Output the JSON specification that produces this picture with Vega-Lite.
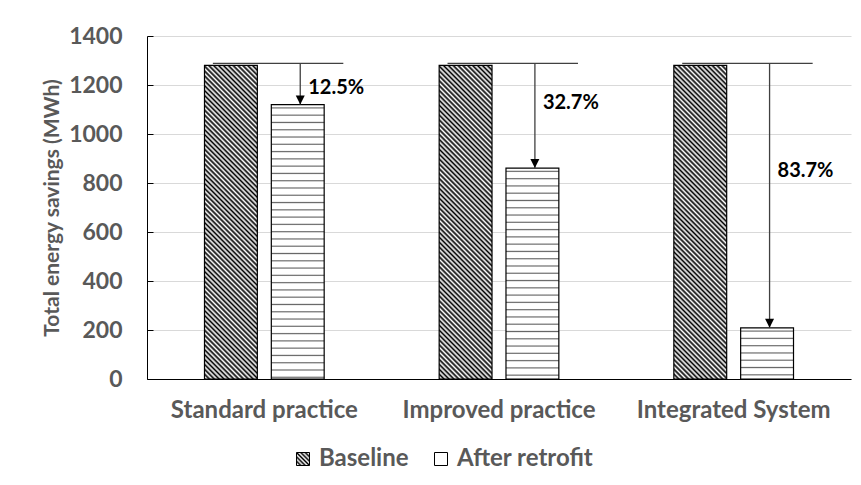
{
  "$schema": "https://vega.github.io/schema/vega-lite/v6.json",
  "autosize": {"type": "none"},
  "width": 704,
  "height": 343,
  "padding": {"left": 147, "top": 36, "right": 10, "bottom": 106},
  "background": "#ffffff",
  "config": {
    "font": "Lato",
    "view": {"stroke": null},
    "axis": {"labelFont": "Lato", "titleFont": "Lato"}
  },
  "datasets": {
    "bars": [
      {"cat": "Standard practice", "series": "Baseline", "value": 1280},
      {"cat": "Standard practice", "series": "After retrofit", "value": 1120},
      {"cat": "Improved practice", "series": "Baseline", "value": 1280},
      {"cat": "Improved practice", "series": "After retrofit", "value": 861},
      {"cat": "Integrated System", "series": "Baseline", "value": 1280},
      {"cat": "Integrated System", "series": "After retrofit", "value": 209}
    ],
    "ann": [
      {"cat": "Standard practice", "baseline": 1280, "after": 1120, "pct": "12.5%", "label_y": 1186},
      {"cat": "Improved practice", "baseline": 1280, "after": 861, "pct": "32.7%", "label_y": 1128},
      {"cat": "Integrated System", "baseline": 1280, "after": 209, "pct": "83.7%", "label_y": 850}
    ]
  },
  "layer": [
    {
      "data": {"name": "bars"},
      "mark": {"type": "bar", "strokeWidth": 1.2, "stroke": "#000000"},
      "encoding": {
        "x": {
          "field": "cat", "type": "nominal", "sort": null,
          "scale": {"domain": ["Standard practice", "Improved practice", "Integrated System"], "paddingInner": 0.49, "paddingOuter": 0.245},
          "axis": {"title": null, "labelFontSize": 24, "labelFontWeight": "bold", "labelColor": "#595959", "labelLimit": 0, "ticks": false, "domainColor": "#000000", "domainWidth": 1, "labelPadding": 19, "grid": false, "labelAngle": 0}
        },
        "xOffset": {"field": "series", "type": "nominal", "scale": {"domain": ["Baseline", "After retrofit"], "paddingInner": 0.209, "paddingOuter": 0}},
        "y": {
          "field": "value", "type": "quantitative",
          "scale": {"domain": [0, 1400], "nice": false},
          "axis": {"values": [0, 200, 400, 600, 800, 1000, 1200, 1400], "format": "d", "title": "Total energy savings (MWh)", "titleFontSize": 21, "titleFontWeight": "bold", "titleColor": "#595959", "labelFontSize": 23, "labelFontWeight": "bold", "labelColor": "#595959", "domainColor": "#000000", "tickColor": "#000000", "tickSize": -6, "labelPadding": 31, "gridColor": "#d9d9d9", "titlePadding": 6}
        },
        "fill": {
          "condition": [
            {"test": "datum.series === 'Baseline'", "value": {"gradient": "linear", "x1": 0, "y1": 1, "x2": 0.1925, "y2": -0.1369, "stops": [
              {"offset":0,"color":"#000"},{"offset":0.0067,"color":"#fff"},{"offset":0.0133,"color":"#000"},{"offset":0.02,"color":"#fff"},{"offset":0.0267,"color":"#000"},{"offset":0.0333,"color":"#fff"},{"offset":0.04,"color":"#000"},{"offset":0.0467,"color":"#fff"},{"offset":0.0533,"color":"#000"},{"offset":0.06,"color":"#fff"},{"offset":0.0667,"color":"#000"},{"offset":0.0733,"color":"#fff"},{"offset":0.08,"color":"#000"},{"offset":0.0867,"color":"#fff"},{"offset":0.0933,"color":"#000"},{"offset":0.1,"color":"#fff"},{"offset":0.1067,"color":"#000"},{"offset":0.1133,"color":"#fff"},{"offset":0.12,"color":"#000"},{"offset":0.1267,"color":"#fff"},{"offset":0.1333,"color":"#000"},{"offset":0.14,"color":"#fff"},{"offset":0.1467,"color":"#000"},{"offset":0.1533,"color":"#fff"},{"offset":0.16,"color":"#000"},{"offset":0.1667,"color":"#fff"},{"offset":0.1733,"color":"#000"},{"offset":0.18,"color":"#fff"},{"offset":0.1867,"color":"#000"},{"offset":0.1933,"color":"#fff"},
              {"offset":0.2,"color":"#000"},{"offset":0.2067,"color":"#fff"},{"offset":0.2133,"color":"#000"},{"offset":0.22,"color":"#fff"},{"offset":0.2267,"color":"#000"},{"offset":0.2333,"color":"#fff"},{"offset":0.24,"color":"#000"},{"offset":0.2467,"color":"#fff"},{"offset":0.2533,"color":"#000"},{"offset":0.26,"color":"#fff"},{"offset":0.2667,"color":"#000"},{"offset":0.2733,"color":"#fff"},{"offset":0.28,"color":"#000"},{"offset":0.2867,"color":"#fff"},{"offset":0.2933,"color":"#000"},{"offset":0.3,"color":"#fff"},{"offset":0.3067,"color":"#000"},{"offset":0.3133,"color":"#fff"},{"offset":0.32,"color":"#000"},{"offset":0.3267,"color":"#fff"},{"offset":0.3333,"color":"#000"},{"offset":0.34,"color":"#fff"},{"offset":0.3467,"color":"#000"},{"offset":0.3533,"color":"#fff"},{"offset":0.36,"color":"#000"},{"offset":0.3667,"color":"#fff"},{"offset":0.3733,"color":"#000"},{"offset":0.38,"color":"#fff"},{"offset":0.3867,"color":"#000"},{"offset":0.3933,"color":"#fff"},
              {"offset":0.4,"color":"#000"},{"offset":0.4067,"color":"#fff"},{"offset":0.4133,"color":"#000"},{"offset":0.42,"color":"#fff"},{"offset":0.4267,"color":"#000"},{"offset":0.4333,"color":"#fff"},{"offset":0.44,"color":"#000"},{"offset":0.4467,"color":"#fff"},{"offset":0.4533,"color":"#000"},{"offset":0.46,"color":"#fff"},{"offset":0.4667,"color":"#000"},{"offset":0.4733,"color":"#fff"},{"offset":0.48,"color":"#000"},{"offset":0.4867,"color":"#fff"},{"offset":0.4933,"color":"#000"},{"offset":0.5,"color":"#fff"},{"offset":0.5067,"color":"#000"},{"offset":0.5133,"color":"#fff"},{"offset":0.52,"color":"#000"},{"offset":0.5267,"color":"#fff"},{"offset":0.5333,"color":"#000"},{"offset":0.54,"color":"#fff"},{"offset":0.5467,"color":"#000"},{"offset":0.5533,"color":"#fff"},{"offset":0.56,"color":"#000"},{"offset":0.5667,"color":"#fff"},{"offset":0.5733,"color":"#000"},{"offset":0.58,"color":"#fff"},{"offset":0.5867,"color":"#000"},{"offset":0.5933,"color":"#fff"},
              {"offset":0.6,"color":"#000"},{"offset":0.6067,"color":"#fff"},{"offset":0.6133,"color":"#000"},{"offset":0.62,"color":"#fff"},{"offset":0.6267,"color":"#000"},{"offset":0.6333,"color":"#fff"},{"offset":0.64,"color":"#000"},{"offset":0.6467,"color":"#fff"},{"offset":0.6533,"color":"#000"},{"offset":0.66,"color":"#fff"},{"offset":0.6667,"color":"#000"},{"offset":0.6733,"color":"#fff"},{"offset":0.68,"color":"#000"},{"offset":0.6867,"color":"#fff"},{"offset":0.6933,"color":"#000"},{"offset":0.7,"color":"#fff"},{"offset":0.7067,"color":"#000"},{"offset":0.7133,"color":"#fff"},{"offset":0.72,"color":"#000"},{"offset":0.7267,"color":"#fff"},{"offset":0.7333,"color":"#000"},{"offset":0.74,"color":"#fff"},{"offset":0.7467,"color":"#000"},{"offset":0.7533,"color":"#fff"},{"offset":0.76,"color":"#000"},{"offset":0.7667,"color":"#fff"},{"offset":0.7733,"color":"#000"},{"offset":0.78,"color":"#fff"},{"offset":0.7867,"color":"#000"},{"offset":0.7933,"color":"#fff"},
              {"offset":0.8,"color":"#000"},{"offset":0.8067,"color":"#fff"},{"offset":0.8133,"color":"#000"},{"offset":0.82,"color":"#fff"},{"offset":0.8267,"color":"#000"},{"offset":0.8333,"color":"#fff"},{"offset":0.84,"color":"#000"},{"offset":0.8467,"color":"#fff"},{"offset":0.8533,"color":"#000"},{"offset":0.86,"color":"#fff"},{"offset":0.8667,"color":"#000"},{"offset":0.8733,"color":"#fff"},{"offset":0.88,"color":"#000"},{"offset":0.8867,"color":"#fff"},{"offset":0.8933,"color":"#000"},{"offset":0.9,"color":"#fff"},{"offset":0.9067,"color":"#000"},{"offset":0.9133,"color":"#fff"},{"offset":0.92,"color":"#000"},{"offset":0.9267,"color":"#fff"},{"offset":0.9333,"color":"#000"},{"offset":0.94,"color":"#fff"},{"offset":0.9467,"color":"#000"},{"offset":0.9533,"color":"#fff"},{"offset":0.96,"color":"#000"},{"offset":0.9667,"color":"#fff"},{"offset":0.9733,"color":"#000"},{"offset":0.98,"color":"#fff"},{"offset":0.9867,"color":"#000"},{"offset":0.9933,"color":"#fff"},
              {"offset":1,"color":"#000"}
            ]}},
            {"test": "datum.cat === 'Standard practice'", "value": {"gradient": "linear", "x1": 0, "y1": -0.0145, "x2": 0, "y2": 1.0468, "stops": [
              {"offset":0,"color":"#fff"},
              {"offset":0.021,"color":"#fff"},{"offset":0.025,"color":"#666"},{"offset":0.029,"color":"#fff"},
              {"offset":0.046,"color":"#fff"},{"offset":0.05,"color":"#666"},{"offset":0.054,"color":"#fff"},
              {"offset":0.071,"color":"#fff"},{"offset":0.075,"color":"#666"},{"offset":0.079,"color":"#fff"},
              {"offset":0.096,"color":"#fff"},{"offset":0.1,"color":"#666"},{"offset":0.104,"color":"#fff"},
              {"offset":0.121,"color":"#fff"},{"offset":0.125,"color":"#666"},{"offset":0.129,"color":"#fff"},
              {"offset":0.146,"color":"#fff"},{"offset":0.15,"color":"#666"},{"offset":0.154,"color":"#fff"},
              {"offset":0.171,"color":"#fff"},{"offset":0.175,"color":"#666"},{"offset":0.179,"color":"#fff"},
              {"offset":0.196,"color":"#fff"},{"offset":0.2,"color":"#666"},{"offset":0.204,"color":"#fff"},
              {"offset":0.221,"color":"#fff"},{"offset":0.225,"color":"#666"},{"offset":0.229,"color":"#fff"},
              {"offset":0.246,"color":"#fff"},{"offset":0.25,"color":"#666"},{"offset":0.254,"color":"#fff"},
              {"offset":0.271,"color":"#fff"},{"offset":0.275,"color":"#666"},{"offset":0.279,"color":"#fff"},
              {"offset":0.296,"color":"#fff"},{"offset":0.3,"color":"#666"},{"offset":0.304,"color":"#fff"},
              {"offset":0.321,"color":"#fff"},{"offset":0.325,"color":"#666"},{"offset":0.329,"color":"#fff"},
              {"offset":0.346,"color":"#fff"},{"offset":0.35,"color":"#666"},{"offset":0.354,"color":"#fff"},
              {"offset":0.371,"color":"#fff"},{"offset":0.375,"color":"#666"},{"offset":0.379,"color":"#fff"},
              {"offset":0.396,"color":"#fff"},{"offset":0.4,"color":"#666"},{"offset":0.404,"color":"#fff"},
              {"offset":0.421,"color":"#fff"},{"offset":0.425,"color":"#666"},{"offset":0.429,"color":"#fff"},
              {"offset":0.446,"color":"#fff"},{"offset":0.45,"color":"#666"},{"offset":0.454,"color":"#fff"},
              {"offset":0.471,"color":"#fff"},{"offset":0.475,"color":"#666"},{"offset":0.479,"color":"#fff"},
              {"offset":0.496,"color":"#fff"},{"offset":0.5,"color":"#666"},{"offset":0.504,"color":"#fff"},
              {"offset":0.521,"color":"#fff"},{"offset":0.525,"color":"#666"},{"offset":0.529,"color":"#fff"},
              {"offset":0.546,"color":"#fff"},{"offset":0.55,"color":"#666"},{"offset":0.554,"color":"#fff"},
              {"offset":0.571,"color":"#fff"},{"offset":0.575,"color":"#666"},{"offset":0.579,"color":"#fff"},
              {"offset":0.596,"color":"#fff"},{"offset":0.6,"color":"#666"},{"offset":0.604,"color":"#fff"},
              {"offset":0.621,"color":"#fff"},{"offset":0.625,"color":"#666"},{"offset":0.629,"color":"#fff"},
              {"offset":0.646,"color":"#fff"},{"offset":0.65,"color":"#666"},{"offset":0.654,"color":"#fff"},
              {"offset":0.671,"color":"#fff"},{"offset":0.675,"color":"#666"},{"offset":0.679,"color":"#fff"},
              {"offset":0.696,"color":"#fff"},{"offset":0.7,"color":"#666"},{"offset":0.704,"color":"#fff"},
              {"offset":0.721,"color":"#fff"},{"offset":0.725,"color":"#666"},{"offset":0.729,"color":"#fff"},
              {"offset":0.746,"color":"#fff"},{"offset":0.75,"color":"#666"},{"offset":0.754,"color":"#fff"},
              {"offset":0.771,"color":"#fff"},{"offset":0.775,"color":"#666"},{"offset":0.779,"color":"#fff"},
              {"offset":0.796,"color":"#fff"},{"offset":0.8,"color":"#666"},{"offset":0.804,"color":"#fff"},
              {"offset":0.821,"color":"#fff"},{"offset":0.825,"color":"#666"},{"offset":0.829,"color":"#fff"},
              {"offset":0.846,"color":"#fff"},{"offset":0.85,"color":"#666"},{"offset":0.854,"color":"#fff"},
              {"offset":0.871,"color":"#fff"},{"offset":0.875,"color":"#666"},{"offset":0.879,"color":"#fff"},
              {"offset":0.896,"color":"#fff"},{"offset":0.9,"color":"#666"},{"offset":0.904,"color":"#fff"},
              {"offset":0.921,"color":"#fff"},{"offset":0.925,"color":"#666"},{"offset":0.929,"color":"#fff"},
              {"offset":0.946,"color":"#fff"},{"offset":0.95,"color":"#666"},{"offset":0.954,"color":"#fff"}
            ]}},
            {"test": "datum.cat === 'Improved practice'", "value": {"gradient": "linear", "x1": 0, "y1": -0.0188, "x2": 0, "y2": 1.3614, "stops": [
              {"offset":0,"color":"#fff"},
              {"offset":0.021,"color":"#fff"},{"offset":0.025,"color":"#666"},{"offset":0.029,"color":"#fff"},
              {"offset":0.046,"color":"#fff"},{"offset":0.05,"color":"#666"},{"offset":0.054,"color":"#fff"},
              {"offset":0.071,"color":"#fff"},{"offset":0.075,"color":"#666"},{"offset":0.079,"color":"#fff"},
              {"offset":0.096,"color":"#fff"},{"offset":0.1,"color":"#666"},{"offset":0.104,"color":"#fff"},
              {"offset":0.121,"color":"#fff"},{"offset":0.125,"color":"#666"},{"offset":0.129,"color":"#fff"},
              {"offset":0.146,"color":"#fff"},{"offset":0.15,"color":"#666"},{"offset":0.154,"color":"#fff"},
              {"offset":0.171,"color":"#fff"},{"offset":0.175,"color":"#666"},{"offset":0.179,"color":"#fff"},
              {"offset":0.196,"color":"#fff"},{"offset":0.2,"color":"#666"},{"offset":0.204,"color":"#fff"},
              {"offset":0.221,"color":"#fff"},{"offset":0.225,"color":"#666"},{"offset":0.229,"color":"#fff"},
              {"offset":0.246,"color":"#fff"},{"offset":0.25,"color":"#666"},{"offset":0.254,"color":"#fff"},
              {"offset":0.271,"color":"#fff"},{"offset":0.275,"color":"#666"},{"offset":0.279,"color":"#fff"},
              {"offset":0.296,"color":"#fff"},{"offset":0.3,"color":"#666"},{"offset":0.304,"color":"#fff"},
              {"offset":0.321,"color":"#fff"},{"offset":0.325,"color":"#666"},{"offset":0.329,"color":"#fff"},
              {"offset":0.346,"color":"#fff"},{"offset":0.35,"color":"#666"},{"offset":0.354,"color":"#fff"},
              {"offset":0.371,"color":"#fff"},{"offset":0.375,"color":"#666"},{"offset":0.379,"color":"#fff"},
              {"offset":0.396,"color":"#fff"},{"offset":0.4,"color":"#666"},{"offset":0.404,"color":"#fff"},
              {"offset":0.421,"color":"#fff"},{"offset":0.425,"color":"#666"},{"offset":0.429,"color":"#fff"},
              {"offset":0.446,"color":"#fff"},{"offset":0.45,"color":"#666"},{"offset":0.454,"color":"#fff"},
              {"offset":0.471,"color":"#fff"},{"offset":0.475,"color":"#666"},{"offset":0.479,"color":"#fff"},
              {"offset":0.496,"color":"#fff"},{"offset":0.5,"color":"#666"},{"offset":0.504,"color":"#fff"},
              {"offset":0.521,"color":"#fff"},{"offset":0.525,"color":"#666"},{"offset":0.529,"color":"#fff"},
              {"offset":0.546,"color":"#fff"},{"offset":0.55,"color":"#666"},{"offset":0.554,"color":"#fff"},
              {"offset":0.571,"color":"#fff"},{"offset":0.575,"color":"#666"},{"offset":0.579,"color":"#fff"},
              {"offset":0.596,"color":"#fff"},{"offset":0.6,"color":"#666"},{"offset":0.604,"color":"#fff"},
              {"offset":0.621,"color":"#fff"},{"offset":0.625,"color":"#666"},{"offset":0.629,"color":"#fff"},
              {"offset":0.646,"color":"#fff"},{"offset":0.65,"color":"#666"},{"offset":0.654,"color":"#fff"},
              {"offset":0.671,"color":"#fff"},{"offset":0.675,"color":"#666"},{"offset":0.679,"color":"#fff"},
              {"offset":0.696,"color":"#fff"},{"offset":0.7,"color":"#666"},{"offset":0.704,"color":"#fff"},
              {"offset":0.721,"color":"#fff"},{"offset":0.725,"color":"#666"},{"offset":0.729,"color":"#fff"},
              {"offset":0.746,"color":"#fff"},{"offset":0.75,"color":"#666"},{"offset":0.754,"color":"#fff"}
            ]}}
          ],
          "value": {"gradient": "linear", "x1": 0, "y1": -0.0777, "x2": 0, "y2": 5.613, "stops": [
            {"offset":0,"color":"#fff"},
            {"offset":0.021,"color":"#fff"},{"offset":0.025,"color":"#666"},{"offset":0.029,"color":"#fff"},
            {"offset":0.046,"color":"#fff"},{"offset":0.05,"color":"#666"},{"offset":0.054,"color":"#fff"},
            {"offset":0.071,"color":"#fff"},{"offset":0.075,"color":"#666"},{"offset":0.079,"color":"#fff"},
            {"offset":0.096,"color":"#fff"},{"offset":0.1,"color":"#666"},{"offset":0.104,"color":"#fff"},
            {"offset":0.121,"color":"#fff"},{"offset":0.125,"color":"#666"},{"offset":0.129,"color":"#fff"},
            {"offset":0.146,"color":"#fff"},{"offset":0.15,"color":"#666"},{"offset":0.154,"color":"#fff"},
            {"offset":0.171,"color":"#fff"},{"offset":0.175,"color":"#666"},{"offset":0.179,"color":"#fff"}
          ]}
        }
      }
    },
    {
      "data": {"name": "bars"},
      "mark": {"type": "point", "shape": "square", "filled": true, "opacity": 0},
      "encoding": {
        "x": {"field": "cat", "type": "nominal"},
        "xOffset": {"field": "series", "type": "nominal"},
        "y": {"field": "value", "type": "quantitative"},
        "fill": {
          "field": "series", "type": "nominal",
          "scale": {"domain": ["Baseline", "After retrofit"], "range": [{"expr": "{gradient: 'linear', x1: 0, y1: 1, x2: 1, y2: 0, stops: [{offset: 0, color: '#000'}, {offset: 0.0833, color: '#fff'}, {offset: 0.1667, color: '#000'}, {offset: 0.25, color: '#fff'}, {offset: 0.3333, color: '#000'}, {offset: 0.4167, color: '#fff'}, {offset: 0.5, color: '#000'}, {offset: 0.5833, color: '#fff'}, {offset: 0.6667, color: '#000'}, {offset: 0.75, color: '#fff'}, {offset: 0.8333, color: '#000'}, {offset: 0.9167, color: '#fff'}, {offset: 1, color: '#000'}]}"}, "#ffffff"]},
          "legend": {
            "title": null, "orient": "none", "legendX": 144, "legendY": 411, "direction": "horizontal",
            "symbolType": "square", "symbolSize": 169, "symbolStrokeWidth": 1, "symbolStrokeColor": "#000000", "symbolOpacity": 1,
            "labelFont": "Lato", "labelFontSize": 24, "labelFontWeight": "bold", "labelColor": "#595959",
            "labelOffset": 4, "columnPadding": 20
          }
        }
      }
    },
    {
      "data": {"name": "ann"},
      "mark": {"type": "rule", "color": "#404040", "strokeWidth": 1.3, "yOffset": -2},
      "encoding": {
        "x": {"field": "cat", "type": "nominal", "bandPosition": 0.07},
        "x2": {"field": "cat", "bandPosition": 1.16},
        "y": {"field": "baseline", "type": "quantitative"}
      }
    },
    {
      "data": {"name": "ann"},
      "mark": {"type": "rule", "color": "#404040", "strokeWidth": 1.3, "yOffset": -2},
      "encoding": {
        "x": {"field": "cat", "type": "nominal", "bandPosition": 0.8},
        "y": {"field": "baseline", "type": "quantitative"},
        "y2": {"field": "after"}
      }
    },
    {
      "data": {"name": "ann"},
      "mark": {"type": "point", "shape": "M-0.9,-1.8L0.9,-1.8L0,0Z", "size": 100, "filled": true, "color": "#000000", "opacity": 1},
      "encoding": {
        "x": {"field": "cat", "type": "nominal", "bandPosition": 0.8},
        "y": {"field": "after", "type": "quantitative"}
      }
    },
    {
      "data": {"name": "ann"},
      "mark": {"type": "text", "align": "left", "baseline": "middle", "dx": 8, "font": "Lato", "fontSize": 20, "fontWeight": "bold", "color": "#000000"},
      "encoding": {
        "x": {"field": "cat", "type": "nominal", "bandPosition": 0.8},
        "y": {"field": "label_y", "type": "quantitative"},
        "text": {"field": "pct"}
      }
    }
  ]
}
